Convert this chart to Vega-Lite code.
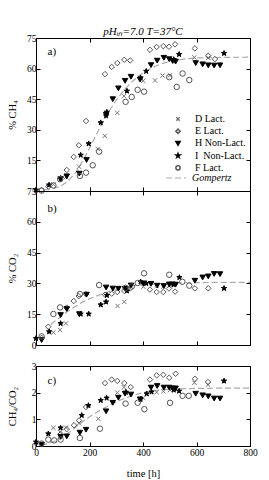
{
  "$schema": "https://vega.github.io/schema/vega-lite/v6.json",
  "padding": {"left": 6, "top": 25, "right": 0, "bottom": 0},
  "background": "white",
  "config": {
    "view": {"stroke": "#000", "strokeWidth": 1},
    "font": "Liberation Serif",
    "axis": {"labelFont": "Liberation Serif", "titleFont": "Liberation Serif", "labelFontSize": 9.5, "titleFontSize": 10.5, "titleFontWeight": "normal", "domainColor": "#000", "tickColor": "#000", "labelColor": "#000", "titleColor": "#000", "grid": false, "tickSize": -4, "labelFlush": false, "labelOverlap": false, "domain": false}
  },
  "datasets": {
    "pts": [
      {"p":"a","s":"D Lact.","t":65,"v":3.2},{"p":"a","s":"D Lact.","t":112,"v":6.8},{"p":"a","s":"D Lact.","t":161,"v":11.9},{"p":"a","s":"D Lact.","t":231,"v":20.6},{"p":"a","s":"D Lact.","t":257,"v":27},{"p":"a","s":"D Lact.","t":304,"v":38.3},{"p":"a","s":"D Lact.","t":329,"v":46.5},{"p":"a","s":"D Lact.","t":401,"v":54},{"p":"a","s":"D Lact.","t":445,"v":54.2},{"p":"a","s":"D Lact.","t":473,"v":56.6},{"p":"a","s":"D Lact.","t":501,"v":56.7},{"p":"a","s":"D Lact.","t":592,"v":65.5},{"p":"a","s":"D Lact.","t":644,"v":65.3},
      {"p":"a","s":"E Lact.","t":21,"v":0.5},{"p":"a","s":"E Lact.","t":46,"v":2.2},{"p":"a","s":"E Lact.","t":115,"v":10.3},{"p":"a","s":"E Lact.","t":141,"v":16.7},{"p":"a","s":"E Lact.","t":160,"v":22.4},{"p":"a","s":"E Lact.","t":187,"v":34.3},{"p":"a","s":"E Lact.","t":258,"v":57.3},{"p":"a","s":"E Lact.","t":283,"v":60.8},{"p":"a","s":"E Lact.","t":304,"v":62.7},{"p":"a","s":"E Lact.","t":330,"v":64.3},{"p":"a","s":"E Lact.","t":352,"v":64},{"p":"a","s":"E Lact.","t":426,"v":69.2},{"p":"a","s":"E Lact.","t":451,"v":70.6},{"p":"a","s":"E Lact.","t":476,"v":71},{"p":"a","s":"E Lact.","t":497,"v":70.7},{"p":"a","s":"E Lact.","t":520,"v":71.9},{"p":"a","s":"E Lact.","t":594,"v":69.9},{"p":"a","s":"E Lact.","t":644,"v":66.3},{"p":"a","s":"E Lact.","t":669,"v":64.7},
      {"p":"a","s":"H Non-Lact.","t":92,"v":5.8},{"p":"a","s":"H Non-Lact.","t":115,"v":7.2},{"p":"a","s":"H Non-Lact.","t":162,"v":8.5},{"p":"a","s":"H Non-Lact.","t":189,"v":15.2},{"p":"a","s":"H Non-Lact.","t":262,"v":37.4},{"p":"a","s":"H Non-Lact.","t":287,"v":45},{"p":"a","s":"H Non-Lact.","t":308,"v":50.3},{"p":"a","s":"H Non-Lact.","t":333,"v":54},{"p":"a","s":"H Non-Lact.","t":355,"v":56},{"p":"a","s":"H Non-Lact.","t":389,"v":54.6},{"p":"a","s":"H Non-Lact.","t":430,"v":61.7},{"p":"a","s":"H Non-Lact.","t":453,"v":63.9},{"p":"a","s":"H Non-Lact.","t":478,"v":65.3},{"p":"a","s":"H Non-Lact.","t":498,"v":64.6},{"p":"a","s":"H Non-Lact.","t":511,"v":63.7},{"p":"a","s":"H Non-Lact.","t":522,"v":63.4},{"p":"a","s":"H Non-Lact.","t":597,"v":62.7},{"p":"a","s":"H Non-Lact.","t":623,"v":62.1},{"p":"a","s":"H Non-Lact.","t":644,"v":61.6},{"p":"a","s":"H Non-Lact.","t":666,"v":61.5},{"p":"a","s":"H Non-Lact.","t":688,"v":61.6},
      {"p":"a","s":"I  Non-Lact.","t":0,"v":0.5},{"p":"a","s":"I  Non-Lact.","t":49,"v":3},{"p":"a","s":"I  Non-Lact.","t":92,"v":6.3},{"p":"a","s":"I  Non-Lact.","t":167,"v":17.6},{"p":"a","s":"I  Non-Lact.","t":197,"v":23.2},{"p":"a","s":"I  Non-Lact.","t":242,"v":33.5},{"p":"a","s":"I  Non-Lact.","t":262,"v":36.9},{"p":"a","s":"I  Non-Lact.","t":265,"v":38.7},{"p":"a","s":"I  Non-Lact.","t":340,"v":49},{"p":"a","s":"I  Non-Lact.","t":391,"v":55.5},{"p":"a","s":"I  Non-Lact.","t":412,"v":58.7},{"p":"a","s":"I  Non-Lact.","t":515,"v":64.5},{"p":"a","s":"I  Non-Lact.","t":535,"v":67},{"p":"a","s":"I  Non-Lact.","t":703,"v":67.5},
      {"p":"a","s":"F Lact.","t":21,"v":0.2},{"p":"a","s":"F Lact.","t":65,"v":2.7},{"p":"a","s":"F Lact.","t":90,"v":5.8},{"p":"a","s":"F Lact.","t":164,"v":7.4},{"p":"a","s":"F Lact.","t":187,"v":9},{"p":"a","s":"F Lact.","t":212,"v":12.6},{"p":"a","s":"F Lact.","t":236,"v":19.3},{"p":"a","s":"F Lact.","t":335,"v":43.7},{"p":"a","s":"F Lact.","t":358,"v":46.1},{"p":"a","s":"F Lact.","t":380,"v":49.6},{"p":"a","s":"F Lact.","t":404,"v":48.7},{"p":"a","s":"F Lact.","t":498,"v":55.8},{"p":"a","s":"F Lact.","t":526,"v":51},{"p":"a","s":"F Lact.","t":548,"v":57.6},{"p":"a","s":"F Lact.","t":573,"v":54.4},

      {"p":"b","s":"D Lact.","t":65,"v":6.1},{"p":"b","s":"D Lact.","t":90,"v":7.3},{"p":"b","s":"D Lact.","t":112,"v":10.5},{"p":"b","s":"D Lact.","t":162,"v":15.5},{"p":"b","s":"D Lact.","t":305,"v":19},{"p":"b","s":"D Lact.","t":330,"v":21},{"p":"b","s":"D Lact.","t":401,"v":28.4},{"p":"b","s":"D Lact.","t":451,"v":28.8},{"p":"b","s":"D Lact.","t":476,"v":28.5},{"p":"b","s":"D Lact.","t":501,"v":29},
      {"p":"b","s":"E Lact.","t":21,"v":3.5},{"p":"b","s":"E Lact.","t":46,"v":8.9},{"p":"b","s":"E Lact.","t":115,"v":18.2},{"p":"b","s":"E Lact.","t":141,"v":21.4},{"p":"b","s":"E Lact.","t":160,"v":23.8},{"p":"b","s":"E Lact.","t":187,"v":24.8},{"p":"b","s":"E Lact.","t":258,"v":24.5},{"p":"b","s":"E Lact.","t":283,"v":25},{"p":"b","s":"E Lact.","t":304,"v":25.8},{"p":"b","s":"E Lact.","t":330,"v":26.3},{"p":"b","s":"E Lact.","t":352,"v":27.5},{"p":"b","s":"E Lact.","t":426,"v":27},{"p":"b","s":"E Lact.","t":451,"v":25.8},{"p":"b","s":"E Lact.","t":476,"v":25.8},{"p":"b","s":"E Lact.","t":497,"v":27.5},{"p":"b","s":"E Lact.","t":520,"v":26},{"p":"b","s":"E Lact.","t":594,"v":27.6},{"p":"b","s":"E Lact.","t":644,"v":27.6},
      {"p":"b","s":"H Non-Lact.","t":21,"v":2.4},{"p":"b","s":"H Non-Lact.","t":92,"v":14.6},{"p":"b","s":"H Non-Lact.","t":115,"v":17.5},{"p":"b","s":"H Non-Lact.","t":162,"v":15},{"p":"b","s":"H Non-Lact.","t":189,"v":24.5},{"p":"b","s":"H Non-Lact.","t":262,"v":28},{"p":"b","s":"H Non-Lact.","t":287,"v":27.5},{"p":"b","s":"H Non-Lact.","t":308,"v":27.4},{"p":"b","s":"H Non-Lact.","t":333,"v":27.4},{"p":"b","s":"H Non-Lact.","t":355,"v":29},{"p":"b","s":"H Non-Lact.","t":401,"v":30},{"p":"b","s":"H Non-Lact.","t":430,"v":29.8},{"p":"b","s":"H Non-Lact.","t":453,"v":28.9},{"p":"b","s":"H Non-Lact.","t":478,"v":28.7},{"p":"b","s":"H Non-Lact.","t":498,"v":29.5},{"p":"b","s":"H Non-Lact.","t":511,"v":29.5},{"p":"b","s":"H Non-Lact.","t":522,"v":29.4},{"p":"b","s":"H Non-Lact.","t":594,"v":31.3},{"p":"b","s":"H Non-Lact.","t":623,"v":32.9},{"p":"b","s":"H Non-Lact.","t":644,"v":33.4},{"p":"b","s":"H Non-Lact.","t":666,"v":34.6},{"p":"b","s":"H Non-Lact.","t":688,"v":34.5},
      {"p":"b","s":"I  Non-Lact.","t":0,"v":3.2},{"p":"b","s":"I  Non-Lact.","t":49,"v":6.5},{"p":"b","s":"I  Non-Lact.","t":92,"v":10.5},{"p":"b","s":"I  Non-Lact.","t":167,"v":15.1},{"p":"b","s":"I  Non-Lact.","t":197,"v":15.1},{"p":"b","s":"I  Non-Lact.","t":242,"v":19.6},{"p":"b","s":"I  Non-Lact.","t":262,"v":21},{"p":"b","s":"I  Non-Lact.","t":265,"v":24.2},{"p":"b","s":"I  Non-Lact.","t":340,"v":26.4},{"p":"b","s":"I  Non-Lact.","t":391,"v":30.8},{"p":"b","s":"I  Non-Lact.","t":412,"v":30},{"p":"b","s":"I  Non-Lact.","t":515,"v":29.5},{"p":"b","s":"I  Non-Lact.","t":536,"v":32.9},{"p":"b","s":"I  Non-Lact.","t":703,"v":27.6},
      {"p":"b","s":"F Lact.","t":21,"v":4.2},{"p":"b","s":"F Lact.","t":65,"v":15.1},{"p":"b","s":"F Lact.","t":90,"v":18.3},{"p":"b","s":"F Lact.","t":164,"v":24.8},{"p":"b","s":"F Lact.","t":236,"v":29.2},{"p":"b","s":"F Lact.","t":335,"v":27.8},{"p":"b","s":"F Lact.","t":358,"v":28.5},{"p":"b","s":"F Lact.","t":380,"v":30.2},{"p":"b","s":"F Lact.","t":404,"v":34.9},{"p":"b","s":"F Lact.","t":498,"v":34.2},{"p":"b","s":"F Lact.","t":547,"v":30.8},{"p":"b","s":"F Lact.","t":573,"v":28.9},

      {"p":"c","s":"D Lact.","t":65,"v":0.68},{"p":"c","s":"D Lact.","t":90,"v":0.52},{"p":"c","s":"D Lact.","t":112,"v":0.69},{"p":"c","s":"D Lact.","t":161,"v":0.85},{"p":"c","s":"D Lact.","t":233,"v":1.02},{"p":"c","s":"D Lact.","t":304,"v":2.0},{"p":"c","s":"D Lact.","t":329,"v":2.2},{"p":"c","s":"D Lact.","t":401,"v":1.8},{"p":"c","s":"D Lact.","t":451,"v":2.02},{"p":"c","s":"D Lact.","t":476,"v":2.05},{"p":"c","s":"D Lact.","t":501,"v":2.1},{"p":"c","s":"D Lact.","t":592,"v":2.37},{"p":"c","s":"D Lact.","t":643,"v":2.3},
      {"p":"c","s":"E Lact.","t":92,"v":0.45},{"p":"c","s":"E Lact.","t":115,"v":0.63},{"p":"c","s":"E Lact.","t":142,"v":0.78},{"p":"c","s":"E Lact.","t":161,"v":0.96},{"p":"c","s":"E Lact.","t":187,"v":1.46},{"p":"c","s":"E Lact.","t":258,"v":2.36},{"p":"c","s":"E Lact.","t":283,"v":2.49},{"p":"c","s":"E Lact.","t":304,"v":2.44},{"p":"c","s":"E Lact.","t":330,"v":2.36},{"p":"c","s":"E Lact.","t":354,"v":2.21},{"p":"c","s":"E Lact.","t":426,"v":2.49},{"p":"c","s":"E Lact.","t":451,"v":2.65},{"p":"c","s":"E Lact.","t":476,"v":2.67},{"p":"c","s":"E Lact.","t":498,"v":2.56},{"p":"c","s":"E Lact.","t":522,"v":2.71},{"p":"c","s":"E Lact.","t":594,"v":2.52},{"p":"c","s":"E Lact.","t":643,"v":2.4},
      {"p":"c","s":"H Non-Lact.","t":21,"v":0.05},{"p":"c","s":"H Non-Lact.","t":92,"v":0.34},{"p":"c","s":"H Non-Lact.","t":115,"v":0.36},{"p":"c","s":"H Non-Lact.","t":164,"v":0.5},{"p":"c","s":"H Non-Lact.","t":187,"v":0.61},{"p":"c","s":"H Non-Lact.","t":262,"v":1.3},{"p":"c","s":"H Non-Lact.","t":287,"v":1.62},{"p":"c","s":"H Non-Lact.","t":308,"v":1.81},{"p":"c","s":"H Non-Lact.","t":333,"v":1.96},{"p":"c","s":"H Non-Lact.","t":355,"v":1.93},{"p":"c","s":"H Non-Lact.","t":389,"v":1.75},{"p":"c","s":"H Non-Lact.","t":430,"v":2.19},{"p":"c","s":"H Non-Lact.","t":453,"v":2.25},{"p":"c","s":"H Non-Lact.","t":478,"v":2.19},{"p":"c","s":"H Non-Lact.","t":498,"v":2.19},{"p":"c","s":"H Non-Lact.","t":511,"v":2.16},{"p":"c","s":"H Non-Lact.","t":522,"v":2.16},{"p":"c","s":"H Non-Lact.","t":597,"v":1.96},{"p":"c","s":"H Non-Lact.","t":623,"v":1.9},{"p":"c","s":"H Non-Lact.","t":644,"v":1.86},{"p":"c","s":"H Non-Lact.","t":666,"v":1.78},{"p":"c","s":"H Non-Lact.","t":688,"v":1.78},
      {"p":"c","s":"I  Non-Lact.","t":0,"v":0.15},{"p":"c","s":"I  Non-Lact.","t":46,"v":0.46},{"p":"c","s":"I  Non-Lact.","t":92,"v":0.68},{"p":"c","s":"I  Non-Lact.","t":171,"v":1.15},{"p":"c","s":"I  Non-Lact.","t":196,"v":1.52},{"p":"c","s":"I  Non-Lact.","t":242,"v":1.71},{"p":"c","s":"I  Non-Lact.","t":264,"v":1.8},{"p":"c","s":"I  Non-Lact.","t":336,"v":2.02},{"p":"c","s":"I  Non-Lact.","t":391,"v":1.75},{"p":"c","s":"I  Non-Lact.","t":414,"v":1.96},{"p":"c","s":"I  Non-Lact.","t":432,"v":2.03},{"p":"c","s":"I  Non-Lact.","t":515,"v":2.1},{"p":"c","s":"I  Non-Lact.","t":535,"v":2.06},{"p":"c","s":"I  Non-Lact.","t":703,"v":2.44},
      {"p":"c","s":"F Lact.","t":21,"v":0.09},{"p":"c","s":"F Lact.","t":46,"v":0.24},{"p":"c","s":"F Lact.","t":68,"v":0.21},{"p":"c","s":"F Lact.","t":92,"v":0.24},{"p":"c","s":"F Lact.","t":164,"v":0.3},{"p":"c","s":"F Lact.","t":239,"v":0.65},{"p":"c","s":"F Lact.","t":335,"v":1.59},{"p":"c","s":"F Lact.","t":380,"v":1.62},{"p":"c","s":"F Lact.","t":405,"v":1.38},{"p":"c","s":"F Lact.","t":501,"v":1.62},{"p":"c","s":"F Lact.","t":548,"v":1.88},{"p":"c","s":"F Lact.","t":571,"v":1.88}
    ],
    "gomp": [
      {"p":"a","t":30,"v":0.5},{"p":"a","t":60,"v":1},{"p":"a","t":90,"v":2.2},{"p":"a","t":120,"v":4.8},{"p":"a","t":150,"v":9.4},{"p":"a","t":180,"v":16},{"p":"a","t":210,"v":23.6},{"p":"a","t":240,"v":31.3},{"p":"a","t":270,"v":38.5},{"p":"a","t":300,"v":44.5},{"p":"a","t":330,"v":49.6},{"p":"a","t":360,"v":53.7},{"p":"a","t":390,"v":57},{"p":"a","t":420,"v":59.5},{"p":"a","t":450,"v":61.4},{"p":"a","t":480,"v":62.8},{"p":"a","t":520,"v":64},{"p":"a","t":560,"v":64.8},{"p":"a","t":600,"v":65.2},{"p":"a","t":650,"v":65.4},{"p":"a","t":700,"v":65.5},{"p":"a","t":800,"v":65.6},
      {"p":"b","t":55,"v":10},{"p":"b","t":80,"v":12.5},{"p":"b","t":100,"v":14.5},{"p":"b","t":125,"v":17},{"p":"b","t":150,"v":19},{"p":"b","t":175,"v":21},{"p":"b","t":200,"v":22.5},{"p":"b","t":225,"v":23.8},{"p":"b","t":250,"v":25},{"p":"b","t":275,"v":26.1},{"p":"b","t":300,"v":27},{"p":"b","t":325,"v":27.8},{"p":"b","t":350,"v":28.5},{"p":"b","t":375,"v":29},{"p":"b","t":400,"v":29.4},{"p":"b","t":450,"v":29.8},{"p":"b","t":500,"v":30.1},{"p":"b","t":550,"v":30.3},{"p":"b","t":600,"v":30.4},{"p":"b","t":700,"v":30.5},{"p":"b","t":800,"v":30.5},
      {"p":"c","t":20,"v":0.03},{"p":"c","t":50,"v":0.1},{"p":"c","t":80,"v":0.22},{"p":"c","t":100,"v":0.33},{"p":"c","t":130,"v":0.55},{"p":"c","t":160,"v":0.8},{"p":"c","t":190,"v":1.03},{"p":"c","t":220,"v":1.22},{"p":"c","t":250,"v":1.4},{"p":"c","t":280,"v":1.56},{"p":"c","t":310,"v":1.7},{"p":"c","t":340,"v":1.82},{"p":"c","t":370,"v":1.92},{"p":"c","t":400,"v":2.0},{"p":"c","t":430,"v":2.06},{"p":"c","t":460,"v":2.1},{"p":"c","t":500,"v":2.13},{"p":"c","t":550,"v":2.15},{"p":"c","t":600,"v":2.16},{"p":"c","t":700,"v":2.17},{"p":"c","t":800,"v":2.17}
    ]
  },
  "resolve": {"scale": {"shape": "independent", "fill": "independent", "stroke": "independent", "strokeDash": "independent"}, "legend": {"shape": "independent", "fill": "independent", "stroke": "independent", "strokeDash": "independent"}},
  "spacing": 10,
  "vconcat": [
    {
      "spacing": 0,
      "bounds": "flush",
      "resolve": {"scale": {"shape": "independent", "fill": "independent", "stroke": "independent", "strokeDash": "independent"}, "legend": {"shape": "independent", "fill": "independent", "stroke": "independent", "strokeDash": "independent"}},
      "vconcat": [
        {
          "width": 214, "height": 153,
          "title": {"text": "pHᵢₙ=7.0 T=37°C", "font": "Liberation Serif", "fontStyle": "italic", "fontWeight": "normal", "fontSize": 11, "anchor": "middle", "offset": -4, "frame": "group", "color": "#000"},
          "resolve": {"axis": {"x": "independent", "y": "independent"}},
          "layer": [
            {
              "data": {"name": "gomp"},
              "transform": [{"filter": "datum.p === 'a'"}],
              "mark": {"type": "line", "color": "#aaa", "strokeWidth": 1.2},
              "encoding": {
                "x": {"field": "t", "type": "quantitative", "scale": {"domain": [0, 800], "nice": false}, "axis": {"orient": "bottom", "values": [0, 200, 400, 600, 800], "labels": false, "title": null}},
                "y": {"field": "v", "type": "quantitative", "scale": {"domain": [0, 75], "nice": false}, "axis": {"orient": "left", "values": [15, 30, 45, 60, 75], "title": "% CH₄", "labelPadding": 4, "titlePadding": 9}},
                "strokeDash": {"datum": "Gompertz", "type": "nominal", "scale": {"domain": ["Gompertz"], "range": [[6, 3]]}, "legend": {"title": null, "orient": "none", "legendX": 129, "legendY": 129, "symbolSize": 400, "symbolType": "stroke", "symbolStrokeColor": "#aaa", "symbolStrokeWidth": 1.2, "labelFont": "Liberation Serif", "labelFontSize": 10, "labelFontStyle": "italic", "labelOffset": 5, "padding": 0, "labelColor": "#000"}}
              }
            },
            {
              "data": {"name": "pts"},
              "transform": [{"filter": "datum.p === 'a'"}],
              "mark": {"type": "point", "size": 30, "strokeWidth": 1, "opacity": 1},
              "encoding": {
                "x": {"field": "t", "type": "quantitative", "scale": {"domain": [0, 800], "nice": false}, "axis": {"orient": "top", "values": [0, 200, 400, 600, 800], "labels": false, "title": null}},
                "y": {"field": "v", "type": "quantitative", "scale": {"domain": [0, 75], "nice": false}, "axis": {"orient": "right", "values": [0, 15, 30, 45, 60, 75], "labels": false, "title": null}},
                "shape": {"field": "s", "type": "nominal", "scale": {"domain": ["D Lact.", "E Lact.", "H Non-Lact.", "I  Non-Lact.", "F Lact."], "range": ["M-0.8,-0.8L0.8,0.8M-0.8,0.8L0.8,-0.8", "diamond", "triangle-down", "M0,-1L0.235,-0.324L0.951,-0.309L0.38,0.124L0.588,0.809L0,0.4L-0.588,0.809L-0.38,0.124L-0.951,-0.309L-0.235,-0.324Z", "circle"]}, "legend": {"title": null, "orient": "none", "legendX": 137, "legendY": 76, "symbolSize": 18, "labelFont": "Liberation Serif", "labelFontSize": 10, "labelOffset": 12, "rowPadding": 1.2, "padding": 0, "labelColor": "#000", "labelExpr": "replace(datum.label, '  ', '\u00a0\u00a0')"}},
                "stroke": {"field": "s", "type": "nominal", "scale": {"domain": ["D Lact.", "E Lact.", "H Non-Lact.", "I  Non-Lact.", "F Lact."], "range": ["#777", "#555", "#000", "#000", "#555"]}, "legend": {"title": null, "orient": "none", "legendX": 137, "legendY": 76, "symbolSize": 18, "labelFont": "Liberation Serif", "labelFontSize": 10, "labelOffset": 12, "rowPadding": 1.2, "padding": 0, "labelColor": "#000", "labelExpr": "replace(datum.label, '  ', '\u00a0\u00a0')"}},
                "fill": {"field": "s", "type": "nominal", "scale": {"domain": ["D Lact.", "E Lact.", "H Non-Lact.", "I  Non-Lact.", "F Lact."], "range": ["transparent", "transparent", "#000", "#000", "transparent"]}, "legend": {"title": null, "orient": "none", "legendX": 137, "legendY": 76, "symbolSize": 18, "labelFont": "Liberation Serif", "labelFontSize": 10, "labelOffset": 12, "rowPadding": 1.2, "padding": 0, "labelColor": "#000", "labelExpr": "replace(datum.label, '  ', '\u00a0\u00a0')"}}
              }
            },
            {
              "data": {"values": [{}]},
              "mark": {"type": "text", "text": "a)", "align": "left", "baseline": "middle", "fontSize": 11, "font": "Liberation Serif", "color": "#000"},
              "encoding": {"x": {"datum": 43, "type": "quantitative", "axis": null}, "y": {"datum": 68, "type": "quantitative", "axis": null}}
            }
          ]
        },
        {
          "width": 214, "height": 154,
          "resolve": {"axis": {"x": "independent", "y": "independent"}},
          "layer": [
            {
              "data": {"name": "gomp"},
              "transform": [{"filter": "datum.p === 'b'"}],
              "mark": {"type": "line", "color": "#aaa", "strokeWidth": 1.2, "strokeDash": [6, 3]},
              "encoding": {
                "x": {"field": "t", "type": "quantitative", "scale": {"domain": [0, 800], "nice": false}, "axis": {"orient": "bottom", "values": [0, 200, 400, 600, 800], "labels": false, "title": null}},
                "y": {"field": "v", "type": "quantitative", "scale": {"domain": [0, 75], "nice": false}, "axis": {"orient": "left", "values": [0, 15, 30, 45, 60, 75], "title": "% CO₂", "labelPadding": 4, "titlePadding": 9}}
              }
            },
            {
              "data": {"name": "pts"},
              "transform": [{"filter": "datum.p === 'b'"}],
              "mark": {"type": "point", "size": 30, "strokeWidth": 1, "opacity": 1},
              "encoding": {
                "x": {"field": "t", "type": "quantitative", "scale": {"domain": [0, 800], "nice": false}, "axis": {"orient": "top", "values": [0, 200, 400, 600, 800], "labels": false, "title": null}},
                "y": {"field": "v", "type": "quantitative", "scale": {"domain": [0, 75], "nice": false}, "axis": {"orient": "right", "values": [0, 15, 30, 45, 60, 75], "labels": false, "title": null}},
                "shape": {"field": "s", "type": "nominal", "scale": {"domain": ["D Lact.", "E Lact.", "H Non-Lact.", "I  Non-Lact.", "F Lact."], "range": ["M-0.8,-0.8L0.8,0.8M-0.8,0.8L0.8,-0.8", "diamond", "triangle-down", "M0,-1L0.235,-0.324L0.951,-0.309L0.38,0.124L0.588,0.809L0,0.4L-0.588,0.809L-0.38,0.124L-0.951,-0.309L-0.235,-0.324Z", "circle"]}, "legend": null},
                "stroke": {"field": "s", "type": "nominal", "scale": {"domain": ["D Lact.", "E Lact.", "H Non-Lact.", "I  Non-Lact.", "F Lact."], "range": ["#777", "#555", "#000", "#000", "#555"]}, "legend": null},
                "fill": {"field": "s", "type": "nominal", "scale": {"domain": ["D Lact.", "E Lact.", "H Non-Lact.", "I  Non-Lact.", "F Lact."], "range": ["transparent", "transparent", "#000", "#000", "transparent"]}, "legend": null}
              }
            },
            {
              "data": {"values": [{}]},
              "mark": {"type": "text", "text": "b)", "align": "left", "baseline": "middle", "fontSize": 11, "font": "Liberation Serif", "color": "#000"},
              "encoding": {"x": {"datum": 43, "type": "quantitative", "axis": null}, "y": {"datum": 66, "type": "quantitative", "axis": null}}
            }
          ]
        }
      ]
    },
    {
      "width": 214, "height": 80,
      "resolve": {"axis": {"x": "independent", "y": "independent"}},
      "layer": [
        {
          "data": {"name": "gomp"},
          "transform": [{"filter": "datum.p === 'c'"}],
          "mark": {"type": "line", "color": "#aaa", "strokeWidth": 1.2, "strokeDash": [6, 3]},
          "encoding": {
            "x": {"field": "t", "type": "quantitative", "scale": {"domain": [0, 800], "nice": false}, "axis": {"orient": "bottom", "values": [0, 200, 400, 600, 800], "format": "d", "title": "time [h]", "labelPadding": 5, "titlePadding": 12}},
            "y": {"field": "v", "type": "quantitative", "scale": {"domain": [0, 3], "nice": false}, "axis": {"orient": "left", "values": [0, 1, 2, 3], "format": "d", "title": "CH₄/CO₂", "labelPadding": 4, "titlePadding": 14}}
          }
        },
        {
          "data": {"name": "pts"},
          "transform": [{"filter": "datum.p === 'c'"}],
          "mark": {"type": "point", "size": 30, "strokeWidth": 1, "opacity": 1},
          "encoding": {
            "x": {"field": "t", "type": "quantitative", "scale": {"domain": [0, 800], "nice": false}, "axis": {"orient": "top", "values": [0, 200, 400, 600, 800], "labels": false, "title": null}},
            "y": {"field": "v", "type": "quantitative", "scale": {"domain": [0, 3], "nice": false}, "axis": {"orient": "right", "values": [0, 1, 2, 3], "labels": false, "title": null}},
            "shape": {"field": "s", "type": "nominal", "scale": {"domain": ["D Lact.", "E Lact.", "H Non-Lact.", "I  Non-Lact.", "F Lact."], "range": ["M-0.8,-0.8L0.8,0.8M-0.8,0.8L0.8,-0.8", "diamond", "triangle-down", "M0,-1L0.235,-0.324L0.951,-0.309L0.38,0.124L0.588,0.809L0,0.4L-0.588,0.809L-0.38,0.124L-0.951,-0.309L-0.235,-0.324Z", "circle"]}, "legend": null},
            "stroke": {"field": "s", "type": "nominal", "scale": {"domain": ["D Lact.", "E Lact.", "H Non-Lact.", "I  Non-Lact.", "F Lact."], "range": ["#777", "#555", "#000", "#000", "#555"]}, "legend": null},
            "fill": {"field": "s", "type": "nominal", "scale": {"domain": ["D Lact.", "E Lact.", "H Non-Lact.", "I  Non-Lact.", "F Lact."], "range": ["transparent", "transparent", "#000", "#000", "transparent"]}, "legend": null}
          }
        },
        {
          "data": {"values": [{}]},
          "mark": {"type": "text", "text": "c)", "align": "left", "baseline": "middle", "fontSize": 11, "font": "Liberation Serif", "color": "#000"},
          "encoding": {"x": {"datum": 43, "type": "quantitative", "axis": null}, "y": {"datum": 2.45, "type": "quantitative", "axis": null}}
        }
      ]
    }
  ]
}
